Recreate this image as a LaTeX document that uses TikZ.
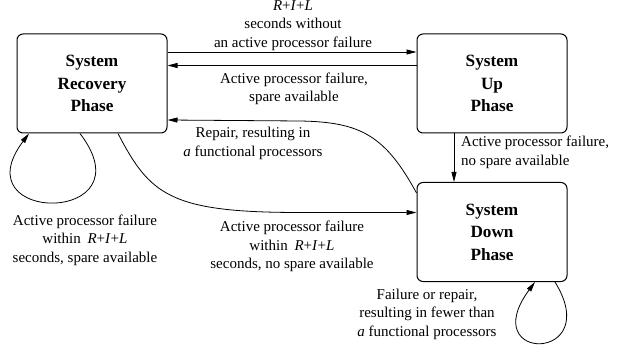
\documentclass[tikz,border=0pt]{standalone}
\usepackage{fontspec}
\setmainfont{Liberation Serif}
\usetikzlibrary{arrows.meta}
\tikzset{
  phase/.style={draw, line width=1pt, rounded corners=6pt, minimum width=150pt, minimum height=99pt,
    align=center, inner sep=0pt, font=\fontsize{17.2}{22.5}\selectfont\bfseries},
  arr/.style={line width=0.8pt, -{Triangle[length=10pt,width=5pt]}},
  lbl/.style={align=center, inner sep=0pt, font=\fontsize{15}{18.5}\selectfont},
}
\newcommand{\RIL}{\textit{R}+\textit{I}+\textit{L}}
\begin{document}
\begin{tikzpicture}[x=1pt,y=-1pt]
\useasboundingbox (0,0) rectangle (618,347);
\node[phase] (rec) at (92,83.5) {System\\Recovery\\Phase};
\node[phase] (up) at (492,83.5) {System\\Up\\Phase};
\node[phase] (down) at (492,232) {System\\Down\\Phase};

\draw[arr] (rec.east |- 0,52) -- (up.west |- 0,52);
\draw[arr] (up.west |- 0,65.5) -- (rec.east |- 0,65.5);
\draw[arr] (up.south -| 454,0) -- (down.north -| 454,0);
\draw[arr] (down.west |- 0,193) .. controls (385,135) and (360,122) .. (300,121) -- (rec.east |- 0,120);
\draw[arr] (rec.south -| 118,0) .. controls (150,195) and (170,212.5) .. (300,212.5) -- (down.west |- 0,212.5);
\draw[arr] (rec.south -| 80,0) .. controls (150,225) and (-40,225) .. (rec.south -| 29,0);
\draw[arr] (down.south -| 555,0) .. controls (605,363) and (475,363) .. (down.south -| 535,0);

\node[lbl] (l1) at (293,25.5) {\RIL\\seconds without\\an active processor failure};
\node[lbl] (l2) at (294,89) {Active processor failure,\\spare available};
\node[lbl] (l3) at (253,143.5) {Repair, resulting in\\\textit{a} functional processors};
\node[lbl, align=left, anchor=west] (l4) at (461,152.5) {Active processor failure,\\no spare available};
\node[lbl] (l5) at (85,240) {Active processor failure\\within\hspace{0.45em}\RIL\\seconds, spare available};
\node[lbl] (l6) at (292,246.5) {Active processor failure\\within\hspace{0.45em}\RIL\\seconds, no spare available};
\node[lbl] (l7) at (427,314) {Failure or repair,\\resulting in fewer than\\\textit{a} functional processors};
\end{tikzpicture}
\end{document}
